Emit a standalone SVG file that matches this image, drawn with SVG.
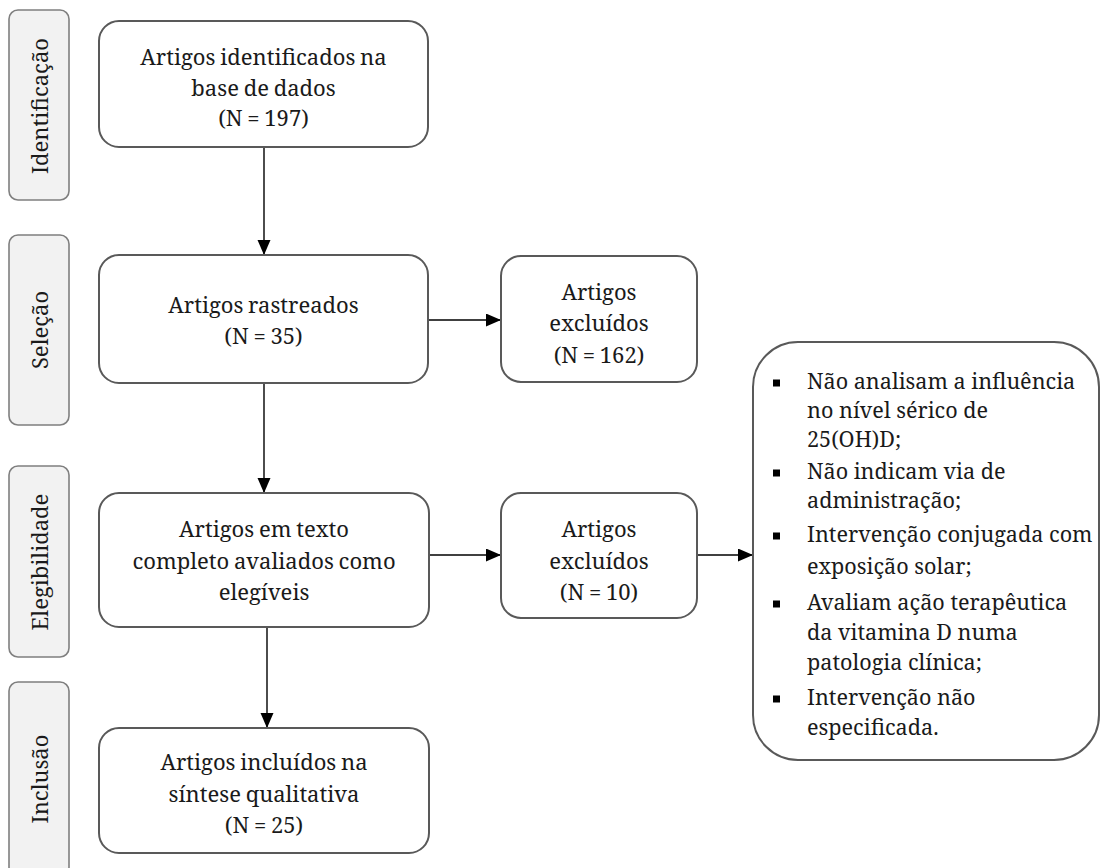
<svg xmlns="http://www.w3.org/2000/svg" width="1103" height="868" viewBox="0 0 1103 868">
<style>
.phase{fill:#f2f2f2;stroke:#7f7f7f;stroke-width:1.6}
.box{fill:#ffffff;stroke:#595959;stroke-width:2}
.t{font-family:"Noto Serif","DejaVu Serif",serif;font-size:22px;fill:#1a1a1a;text-anchor:middle;word-spacing:-1px}
.pl{font-family:"Noto Serif","DejaVu Serif",serif;font-size:22px;fill:#1a1a1a;text-anchor:middle}
.li{font-family:"Noto Serif","DejaVu Serif",serif;font-size:21.6px;fill:#1a1a1a}
.con{stroke:#000;stroke-width:1.4;fill:none}
.bul{fill:#000}
</style>
<defs>
<marker id="arr" markerUnits="userSpaceOnUse" markerWidth="16" markerHeight="14" refX="15" refY="6.5" orient="auto">
<path d="M0,0 L15,6.5 L0,13 z" fill="#000"/>
</marker>
</defs>
<rect width="1103" height="868" fill="#ffffff"/>
<g id="phase-identificacao">
<rect class="phase" x="9" y="10" width="60" height="190" rx="9"/>
<text class="pl" transform="translate(48,106) rotate(-90)">Identificação</text>
</g>
<g id="phase-selecao">
<rect class="phase" x="9" y="235" width="60" height="190" rx="9"/>
<text class="pl" transform="translate(48,330) rotate(-90)">Seleção</text>
</g>
<g id="phase-elegibilidade">
<rect class="phase" x="9" y="466" width="60" height="191" rx="9"/>
<text class="pl" transform="translate(48,562) rotate(-90)">Elegibilidade</text>
</g>
<g id="phase-inclusao">
<rect class="phase" x="9" y="682" width="60" height="194" rx="9"/>
<text class="pl" transform="translate(48,779) rotate(-90)">Inclusão</text>
</g>

<g id="connectors">
<line class="con" x1="264" y1="147" x2="264" y2="255" marker-end="url(#arr)"/>
<line class="con" x1="428" y1="320" x2="501" y2="320" marker-end="url(#arr)"/>
<line class="con" x1="264" y1="383" x2="264" y2="493" marker-end="url(#arr)"/>
<line class="con" x1="429" y1="555" x2="501" y2="555" marker-end="url(#arr)"/>
<line class="con" x1="697" y1="555" x2="753" y2="555" marker-end="url(#arr)"/>
<line class="con" x1="267" y1="627" x2="267" y2="728" marker-end="url(#arr)"/>
</g>

<g id="node-identificados">
<rect class="box" x="99" y="21" width="329" height="126" rx="20"/>
<text class="t" x="263.5" y="65">Artigos identificados na</text>
<text class="t" x="263.5" y="96">base de dados</text>
<text class="t" x="263.5" y="126">(N = 197)</text>
</g>
<g id="node-rastreados">
<rect class="box" x="99" y="255" width="329" height="128" rx="20"/>
<text class="t" x="263.5" y="313">Artigos rastreados</text>
<text class="t" x="263.5" y="344">(N = 35)</text>
</g>
<g id="node-excluidos-162">
<rect class="box" x="501" y="256" width="196" height="126" rx="20"/>
<text class="t" x="599" y="300">Artigos</text>
<text class="t" x="599" y="331">excluídos</text>
<text class="t" x="599" y="363">(N = 162)</text>
</g>
<g id="node-elegiveis">
<rect class="box" x="99" y="493" width="330" height="134" rx="20"/>
<text class="t" x="264" y="537">Artigos em texto</text>
<text class="t" x="264" y="569">completo avaliados como</text>
<text class="t" x="264" y="600">elegíveis</text>
</g>
<g id="node-excluidos-10">
<rect class="box" x="501" y="493" width="196" height="125" rx="20"/>
<text class="t" x="599" y="537">Artigos</text>
<text class="t" x="599" y="569">excluídos</text>
<text class="t" x="599" y="600">(N = 10)</text>
</g>
<g id="node-incluidos">
<rect class="box" x="99" y="728" width="330" height="125" rx="20"/>
<text class="t" x="264" y="770">Artigos incluídos na</text>
<text class="t" x="264" y="802">síntese qualitativa</text>
<text class="t" x="264" y="833">(N = 25)</text>
</g>
<g id="node-motivos">
<rect class="box" x="753" y="342" width="346" height="418" rx="45"/>
<rect class="bul" x="773" y="379.5" width="7" height="7"/>
<rect class="bul" x="773" y="469.5" width="7" height="7"/>
<rect class="bul" x="773" y="532.5" width="7" height="7"/>
<rect class="bul" x="773" y="600.5" width="7" height="7"/>
<rect class="bul" x="773" y="695.5" width="7" height="7"/>
<text class="li" x="807" y="389">Não analisam a influência</text>
<text class="li" x="807" y="418">no nível sérico de</text>
<text class="li" x="807" y="447">25(OH)D;</text>
<text class="li" x="807" y="479">Não indicam via de</text>
<text class="li" x="807" y="508">administração;</text>
<text class="li" x="807" y="542">Intervenção conjugada com</text>
<text class="li" x="807" y="574">exposição solar;</text>
<text class="li" x="807" y="610">Avaliam ação terapêutica</text>
<text class="li" x="807" y="640">da vitamina D numa</text>
<text class="li" x="807" y="670">patologia clínica;</text>
<text class="li" x="807" y="705">Intervenção não</text>
<text class="li" x="807" y="735">especificada.</text>
</g>
</svg>
